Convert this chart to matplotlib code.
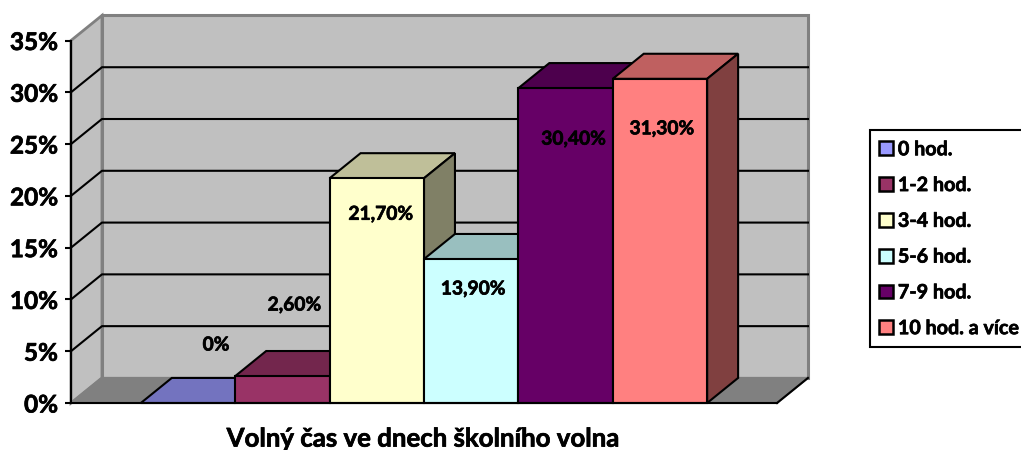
import matplotlib
matplotlib.use('Agg')
import matplotlib.pyplot as plt
import matplotlib.patheffects as pe
from matplotlib.patches import Patch, Polygon
from matplotlib.colors import to_rgb

plt.rcParams['font.family'] = ['Lato', 'DejaVu Sans']
plt.rcParams['font.weight'] = 'bold'

# Data
categories = ['0 hod.', '1-2 hod.', '3-4 hod.', '5-6 hod.', '7-9 hod.', '10 hod. a více']
values = [0, 2.6, 21.7, 13.9, 30.4, 31.3]
value_labels = ['0%', '2,60%', '21,70%', '13,90%', '30,40%', '31,30%']
y_ticks = [0, 5, 10, 15, 20, 25, 30, 35]
colors = ['#9999FF', '#993366', '#FFFFCC', '#CCFFFF', '#660066', '#FF8080']

# Label shift from the top of the bar front centre, in pixels
label_shift = [(28, 58), (12, 71), (4, -36), (2, -30), (8, -51), (2, -50)]

# 3D depth in data units
depth_x = 0.328
depth_y = 2.42
x_min, x_max = -1.24, 6.24
y_max = 35

W, H = 1021, 450
fig = plt.figure(figsize=(W / 100, H / 100), dpi=100)
ax = fig.add_axes([71 / W, (H - 403) / H, 706 / W, 362.5 / H])
ax.set_xlim(x_min, x_max)
ax.set_ylim(0, y_max)

# Lato bold is a bit thinner than the original font
heavy = [pe.withStroke(linewidth=0.5, foreground='black')]


def face(points, color, edge='black', lw=1.5, z=2):
    ax.add_patch(Polygon(points, closed=True, facecolor=color, edgecolor=edge,
                         linewidth=lw, joinstyle='miter', clip_on=False, zorder=z))


def shade(color, f):
    return tuple(c * f for c in to_rgb(color))


# Walls and floor
back_left = x_min + depth_x
back_right = x_max + depth_x
face([(back_left, depth_y), (back_right, depth_y), (back_right, y_max + depth_y), (back_left, y_max + depth_y)],
     '#C0C0C0', '#808080', 2.2, 1)
face([(x_min, 0), (back_left, depth_y), (back_left, y_max + depth_y), (x_min, y_max)],
     '#C0C0C0', '#808080', 2.0, 1)
face([(x_min, 0), (x_max, 0), (back_right, depth_y), (back_left, depth_y)],
     '#808080', '#808080', 1.5, 1)
ax.plot([x_max, back_right], [0, depth_y], color='black', lw=1.5, clip_on=False, zorder=1.5)

# Gridlines on the side and back walls
for t in y_ticks[1:-1]:
    ax.plot([x_min, back_left, back_right], [t, t + depth_y, t + depth_y],
            color='black', lw=1.5, clip_on=False, zorder=1.5)

# Bars
for i, (v, c) in enumerate(zip(values, colors)):
    l, r = i - 0.5, i + 0.5
    z = 3 + i
    face([(l, v), (r, v), (r + depth_x, v + depth_y), (l + depth_x, v + depth_y)], shade(c, 0.75), z=z)
    if v > 0:
        face([(r, 0), (r + depth_x, depth_y), (r + depth_x, v + depth_y), (r, v)], shade(c, 0.5), z=z)
        face([(l, 0), (r, 0), (r, v), (l, v)], c, z=z)

# Data labels
for i, (v, s) in enumerate(zip(values, value_labels)):
    ax.annotate(s, xy=(i, v), xytext=label_shift[i], textcoords='offset pixels',
                ha='center', va='center', fontsize=13.8, fontweight='bold', color='black', zorder=20,
                path_effects=heavy)

# Axes
for side in ['top', 'right']:
    ax.spines[side].set_visible(False)
ax.patch.set_visible(False)
ax.spines['left'].set_linewidth(1.5)
ax.spines['bottom'].set_linewidth(1.5)
ax.spines['left'].set_zorder(15)
ax.spines['bottom'].set_zorder(15)
ax.set_xticks([])
ax.set_yticks(y_ticks)
ax.set_yticklabels([f'{t}%' for t in y_ticks], fontsize=17.5, fontweight='bold', path_effects=heavy)
ax.tick_params(axis='y', length=4, width=1.5, pad=5.5)
ax.set_xlabel('Volný čas ve dnech školního volna', fontsize=18.6, fontweight='bold', labelpad=17,
              path_effects=heavy)

# Legend
handles = [Patch(facecolor=c, edgecolor='black', linewidth=1.8) for c in colors]
leg = fig.legend(handles, categories, loc='upper left', bbox_to_anchor=(869.5 / W, (H - 130) / H),
                 prop={'size': 14.2, 'weight': 'bold'}, frameon=True, fancybox=False,
                 edgecolor='black', framealpha=1, borderaxespad=0, handlelength=0.7, handleheight=0.7,
                 handletextpad=0.27, labelspacing=0.8, borderpad=0.47)
leg.get_frame().set_linewidth(1.5)
for txt in leg.get_texts():
    txt.set_path_effects(heavy)

fig.savefig('out.png', dpi=100)
